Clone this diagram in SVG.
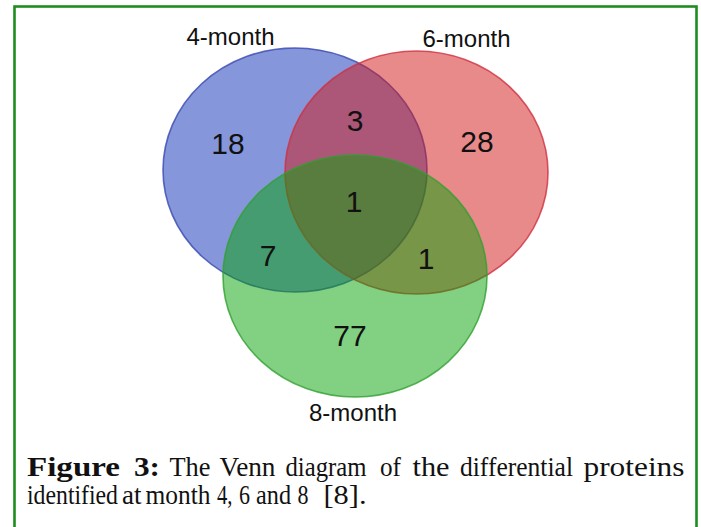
<svg xmlns="http://www.w3.org/2000/svg" width="701" height="527" viewBox="0 0 701 527">
<style>
.lab{font-family:"Liberation Sans",Arial,sans-serif;font-size:24px;fill:#111;text-anchor:middle}
.num{font-family:"Liberation Sans",Arial,sans-serif;font-size:30px;fill:#111;text-anchor:middle}
.cap{font-family:"Liberation Serif","Times New Roman",serif;font-size:27px;fill:#111}
.b{font-weight:bold}
.set{stroke-width:1.6}
</style>
<rect x="0" y="0" width="701" height="527" fill="#ffffff"/>
<rect x="14.5" y="6.5" width="682" height="540" fill="none" stroke="#1f8c1f" stroke-width="2.6"/>
<g id="set-4month">
<ellipse class="set" cx="295" cy="170" rx="132" ry="122" fill="#0b2db5" fill-opacity="0.5" stroke="#3848b0" stroke-opacity="0.8"/>
</g>
<g id="set-6month">
<ellipse class="set" cx="416.5" cy="172.5" rx="131.5" ry="121.5" fill="#d31515" fill-opacity="0.5" stroke="#d03040" stroke-opacity="0.8"/>
</g>
<g id="set-8month">
<ellipse class="set" cx="355" cy="276" rx="132" ry="121" fill="#05a105" fill-opacity="0.5" stroke="#30a030" stroke-opacity="0.8"/>
</g>
<g id="labels">
<text class="lab" x="230.5" y="45">4-month</text>
<text class="lab" x="466.5" y="47">6-month</text>
<text class="lab" x="353" y="421">8-month</text>
</g>
<g id="counts">
<text class="num" x="228" y="154">18</text>
<text class="num" x="355" y="131">3</text>
<text class="num" x="477" y="152">28</text>
<text class="num" x="354" y="212">1</text>
<text class="num" x="268" y="266">7</text>
<text class="num" x="426" y="269">1</text>
<text class="num" x="350" y="346">77</text>
</g>
<g id="caption">
<text class="cap b" x="27" y="476" textLength="93" lengthAdjust="spacingAndGlyphs">Figure</text>
<text class="cap b" x="134" y="476" textLength="26" lengthAdjust="spacingAndGlyphs">3:</text>
<text class="cap" x="169.5" y="476" textLength="41" lengthAdjust="spacingAndGlyphs">The</text>
<text class="cap" x="219.5" y="476" textLength="56" lengthAdjust="spacingAndGlyphs">Venn</text>
<text class="cap" x="285.5" y="476" textLength="81" lengthAdjust="spacingAndGlyphs">diagram</text>
<text class="cap" x="380" y="476" textLength="21" lengthAdjust="spacingAndGlyphs">of</text>
<text class="cap" x="412.5" y="476" textLength="37" lengthAdjust="spacingAndGlyphs">the</text>
<text class="cap" x="460" y="476" textLength="113" lengthAdjust="spacingAndGlyphs">differential</text>
<text class="cap" x="583.5" y="476" textLength="101" lengthAdjust="spacingAndGlyphs">proteins</text>
<text class="cap" x="27" y="504" textLength="91" lengthAdjust="spacingAndGlyphs">identified</text>
<text class="cap" x="122" y="504" textLength="19.5" lengthAdjust="spacingAndGlyphs">at</text>
<text class="cap" x="145.5" y="504" textLength="65" lengthAdjust="spacingAndGlyphs">month</text>
<text class="cap" x="217" y="504" textLength="15.5" lengthAdjust="spacingAndGlyphs">4,</text>
<text class="cap" x="239" y="504" textLength="11" lengthAdjust="spacingAndGlyphs">6</text>
<text class="cap" x="256" y="504" textLength="35" lengthAdjust="spacingAndGlyphs">and</text>
<text class="cap" x="297.5" y="504" textLength="11" lengthAdjust="spacingAndGlyphs">8</text>
<text class="cap" x="323.5" y="504" textLength="43" lengthAdjust="spacingAndGlyphs">[8].</text>
</g>
</svg>
